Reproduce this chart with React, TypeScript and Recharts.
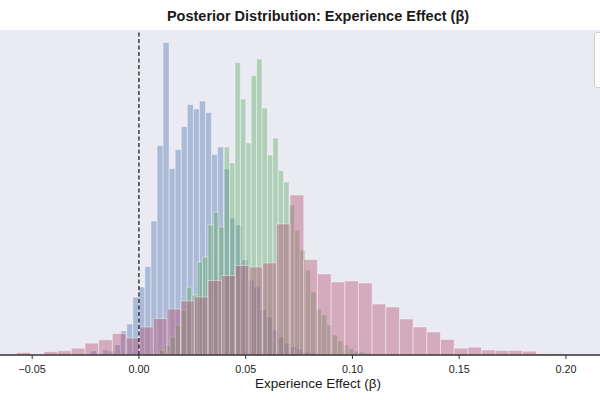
import React from 'react';
import { ComposedChart, XAxis, YAxis, ReferenceArea, ReferenceLine, Line, CartesianGrid } from 'recharts';

const FONT = '"Liberation Sans", Arial, Helvetica, sans-serif';

const TITLE = 'Posterior Distribution: Experience Effect (β)';
const X_LABEL = 'Experience Effect (β)';
const X_TICKS = [-0.05, 0, 0.05, 0.1, 0.15, 0.2];
const X_DOMAIN: [number, number] = [-0.06508, 0.21597];
const Y_DOMAIN: [number, number] = [0, 325];

// histogram bins (start of first bin, bin width, heights)
const BLUE_START = -0.02275;
const BLUE_WIDTH = 0.002838;
const BLUE_HEIGHTS = [
  4, 1, 5, 4, 10, 24, 31, 58, 68, 88.5, 134, 209.5, 312.5, 186.5, 205.5, 228.5, 250.5, 246, 254, 242.5,
  200.5, 208, 186, 137, 130, 95, 75, 68, 45, 38, 25, 18, 12, 8, 6, 3, 2, 1, 1, 0.5,
];

const GREEN_START = 0.00705;
const GREEN_WIDTH = 0.00253;
const GREEN_HEIGHTS = [
  2, 5, 10, 18, 30, 45, 68, 60, 93, 98, 130, 143, 128, 208, 192, 292.5, 256, 212, 279.5, 296, 247,
  200, 217, 184.5, 173, 150, 125, 105, 85, 63, 46, 40, 30, 20, 14, 10, 6.5, 4, 3, 2, 1,
];

const PINK_START = -0.0573;
const PINK_WIDTH = 0.006405;
const PINK_HEIGHTS = [
  2.5, 0, 3.5, 4.2, 6.8, 11.8, 15.2, 21.5, 17, 28, 36.5, 46, 54, 58, 74.5, 79.5, 89.5, 88, 92, 131,
  160, 95.5, 81, 73, 74, 72, 51, 48, 36, 28, 23, 15.5, 6.8, 7.8, 5, 4.5, 4.5, 3.8, 1.2, 1.2,
];

const AXIS_SPAN = [
  { x: X_DOMAIN[0], y: 0 },
  { x: X_DOMAIN[1], y: 0 },
];

type Bin = { x1: number; x2: number; h: number };
const toBins = (start: number, width: number, heights: number[]): Bin[] =>
  heights.map((h, i) => ({ x1: start + i * width, x2: start + (i + 1) * width, h }));

const SERIES = [
  { key: 'blue', color: '#4C72B0', bins: toBins(BLUE_START, BLUE_WIDTH, BLUE_HEIGHTS) },
  { key: 'green', color: '#5AA862', bins: toBins(GREEN_START, GREEN_WIDTH, GREEN_HEIGHTS) },
  { key: 'pink', color: '#B54C6E', bins: toBins(PINK_START, PINK_WIDTH, PINK_HEIGHTS) },
];

const fmt = (v: number) => {
  const s = Math.abs(v).toFixed(2);
  return v < -1e-9 ? '\u2212' + s : s;
};

export default function App() {
  return (
    <div
      style={{
        position: 'fixed',
        left: 0,
        top: 0,
        width: 600,
        height: 400,
        overflow: 'hidden',
        background: '#ffffff',
        fontFamily: FONT,
      }}
    >
      <ComposedChart
        width={600}
        height={400}
        data={AXIS_SPAN}
        margin={{ top: 30, right: 0, bottom: 0, left: 0 }}
      >
        <CartesianGrid fill="#EAEAF2" horizontal={false} vertical={false} stroke="none" />
        <XAxis
          type="number"
          dataKey="x"
          domain={X_DOMAIN}
          ticks={X_TICKS}
          allowDataOverflow
          height={45}
          axisLine={{ stroke: '#333333', strokeWidth: 1.5 }}
          tickLine={{ stroke: '#333333' }}
          tickSize={4}
          tickMargin={6}
          tick={{ fontSize: 10.8, fill: '#222222', fontFamily: FONT }}
          tickFormatter={fmt}
        />
        <YAxis type="number" hide domain={Y_DOMAIN} allowDataOverflow />
        <Line
          dataKey="y"
          stroke="none"
          dot={false}
          activeDot={false}
          isAnimationActive={false}
        />
        {SERIES.map((s) =>
          s.bins.map((b, i) =>
            b.h > 0 ? (
              <ReferenceArea
                key={s.key + i}
                x1={b.x1}
                x2={b.x2}
                y1={0}
                y2={b.h}
                fill={s.color}
                fillOpacity={0.4}
                stroke="#ffffff"
                strokeOpacity={0.5}
                strokeWidth={0.8}
                ifOverflow="visible"
              />
            ) : null
          )
        )}
        <ReferenceLine x={0} stroke="#111111" strokeDasharray="4 2.5" strokeWidth={1.2} />
      </ComposedChart>
      <div
        style={{
          position: 'absolute',
          left: 0,
          top: 7,
          width: 636,
          textAlign: 'center',
          fontWeight: 700,
          fontSize: 14.5,
          color: '#1a1a1a',
          lineHeight: '18px',
          whiteSpace: 'nowrap',
        }}
      >
        {TITLE}
      </div>
      <div
        style={{
          position: 'absolute',
          left: 0,
          top: 375,
          width: 636,
          textAlign: 'center',
          fontSize: 13.5,
          color: '#1a1a1a',
          lineHeight: '17px',
          whiteSpace: 'nowrap',
        }}
      >
        {X_LABEL}
      </div>
      <div
        style={{
          position: 'absolute',
          left: 594,
          top: 32,
          width: 120,
          height: 56,
          background: 'rgba(255,255,255,0.85)',
          border: '1px solid #d0d0d0',
          borderRadius: 3,
          boxSizing: 'border-box',
        }}
      />
    </div>
  );
}
